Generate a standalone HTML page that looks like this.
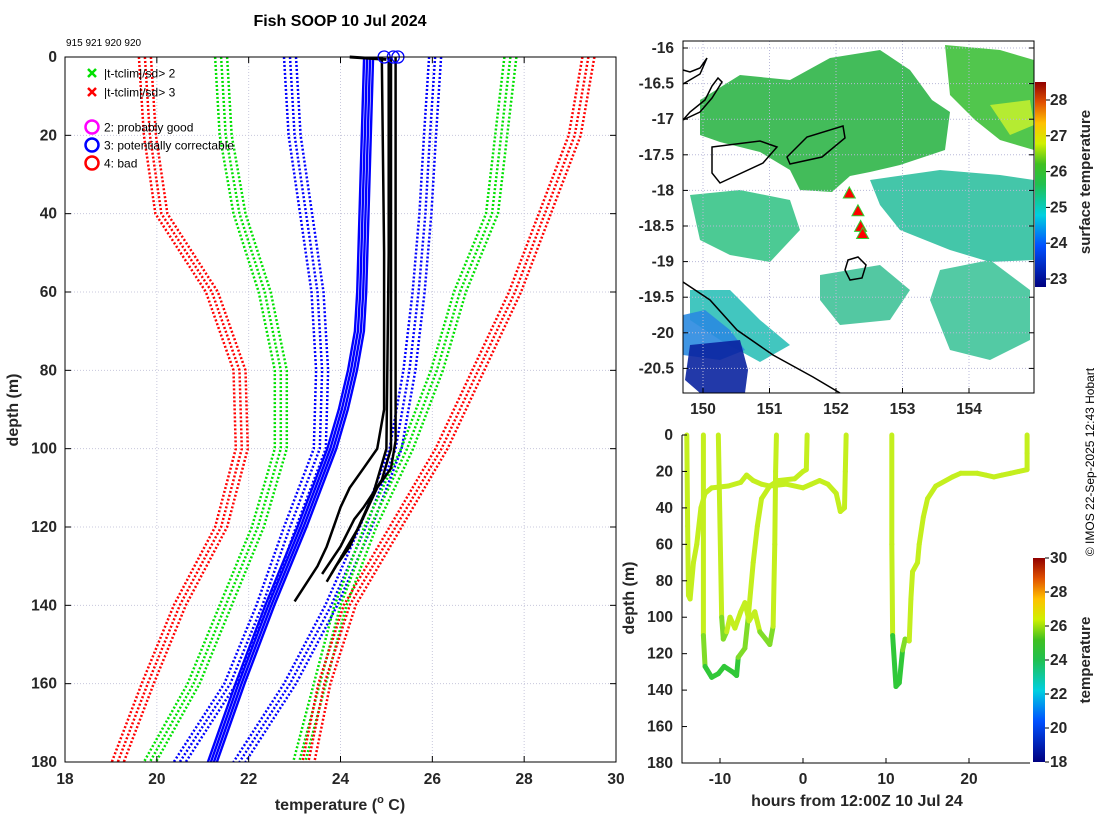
<!DOCTYPE html>
<html><head><meta charset="utf-8"><style>
html,body{margin:0;padding:0;background:#fff;}
svg{display:block;font-family:"Liberation Sans",sans-serif;}
.tk{font-size:15.5px;font-weight:bold;fill:#262626;}
</style></head><body>
<svg id="s" width="1100" height="820" viewBox="0 0 1100 820">
<defs>
<linearGradient id="cb1" x1="0" y1="1" x2="0" y2="0">
<stop offset="0" stop-color="#00007f"/><stop offset="0.2" stop-color="#0050ff"/><stop offset="0.35" stop-color="#00d0e0"/><stop offset="0.5" stop-color="#20c050"/><stop offset="0.6" stop-color="#40c020"/><stop offset="0.7" stop-color="#d0f000"/><stop offset="0.8" stop-color="#ffc000"/><stop offset="0.9" stop-color="#e05000"/><stop offset="1" stop-color="#900000"/>
</linearGradient>
</defs>
<text x="340" y="26" text-anchor="middle" font-size="16" font-weight="bold" fill="#000">Fish SOOP 10 Jul 2024</text>
<text x="66" y="46" font-size="10" fill="#000">915 921 920 920</text>
<g id="left"></g>
<g id="map"></g>
<g id="br"></g>
<text transform="translate(1094,462) rotate(-90)" text-anchor="middle" font-size="12" fill="#000">© IMOS 22-Sep-2025 12:43 Hobart</text>
</svg>
<script>
const NS="http://www.w3.org/2000/svg";
function mk(parent,tag,attrs,text){const e=document.createElementNS(NS,tag);for(const k in attrs)e.setAttribute(k,attrs[k]);if(text!==undefined)e.textContent=text;parent.appendChild(e);return e;}

// ---------- LEFT PANEL DATA ----------
const depthLevels=[0,20,40,60,80,100,120,140,160,180];
const climRedLeft=[19.74,19.85,20.1,21.2,21.8,21.85,21.4,20.5,19.8,19.15];
const climGreenLeft=[21.4,21.5,21.8,22.35,22.7,22.7,22.2,21.5,20.8,19.85];
const climBlueLeft=[22.9,23.0,23.25,23.5,23.6,23.55,22.9,22.3,21.6,20.5];
const climBlueRight=[26.06,25.95,25.85,25.7,25.5,25.2,24.55,23.8,22.9,21.8];
const climGreenRight=[27.7,27.5,27.3,26.6,26.1,25.45,24.65,24.0,23.55,23.1];
const climRedRight=[29.4,29.1,28.45,27.8,27.0,26.2,25.2,24.2,23.65,23.3];
const blueProfDepth=[0,20,40,60,70,80,90,100,120,140,160,180];
const blueProfTemp=[24.6,24.55,24.5,24.45,24.4,24.25,24.05,23.8,23.15,22.45,21.8,21.2];
const blackProfA_T=[24.9,24.95,24.95,24.8,24.5,24.2,24.0,23.7,23.5,23.0];
const blackProfA_D=[0,50,90,100,105,110,115,125,130,139];
const blackProfB_T=[25.1,25.1,25.1,24.9,24.5,24.3,24.0,23.6];
const blackProfB_D=[0,50,100,108,115,118,125,132];
const blackProfC_T=[25.2,25.2,25.2,25.1,24.8,24.4,24.0,23.8];
const blackProfC_D=[0,50,98,105,110,120,128,132];
const blackProfD_T=[25.05,25.05,25.0,24.7,24.2,23.9,23.7];
const blackProfD_D=[0,50,100,112,125,130,134];
const xTicksL=[18,20,22,24,26,28,30];
const yTicksL=[0,20,40,60,80,100,120,140,160,180];

const L={x0:65,x1:616,y0:57,y1:762,t0:18,t1:30,d0:0,d1:180};
const lx=t=>L.x0+(t-L.t0)/(L.t1-L.t0)*(L.x1-L.x0);
const ly=d=>L.y0+(d-L.d0)/(L.d1-L.d0)*(L.y1-L.y0);
const gL=document.getElementById('left');
xTicksL.forEach(t=>{const e=mk(gL,'line',{x1:lx(t),x2:lx(t),y1:L.y0,y2:L.y1,stroke:'#c8c8dc','stroke-dasharray':'1,2','stroke-width':1});

});
yTicksL.forEach(d=>{const e=mk(gL,'line',{x1:L.x0,x2:L.x1,y1:ly(d),y2:ly(d),stroke:'#c8c8dc','stroke-dasharray':'1,2','stroke-width':1});

});
function pathFrom(ts,ds,fx,fy,off){return ts.map((t,i)=>(i?'L':'M')+(fx(t)+(off||0)).toFixed(1)+','+fy(ds[i]).toFixed(1)).join(' ');}
const climSets=[[climRedLeft,'#ff0000','clim-red-left'],[climGreenLeft,'#00e000','clim-green-left'],[climBlueLeft,'#0000ff','clim-blue-left'],[climBlueRight,'#0000ff','clim-blue-right'],[climGreenRight,'#00e000','clim-green-right'],[climRedRight,'#ff0000','clim-red-right']];
climSets.forEach(([arr,col,nm])=>{[-6,0,6].forEach(o=>{const e=mk(gL,'path',{d:pathFrom(arr,depthLevels,lx,ly,o),fill:'none',stroke:col,'stroke-width':2.5,'stroke-dasharray':'2,2'});

});});
[-4,-1,2,5].forEach(o=>{const e=mk(gL,'path',{d:pathFrom(blueProfTemp,blueProfDepth,lx,ly,o),fill:'none',stroke:'#0000ff','stroke-width':2.4});

});
[[blackProfA_T,blackProfA_D],[blackProfB_T,blackProfB_D],[blackProfC_T,blackProfC_D],[blackProfD_T,blackProfD_D]].forEach(([ts,ds])=>{const e=mk(gL,'path',{d:pathFrom(ts,ds,lx,ly),fill:'none',stroke:'#000','stroke-width':2.5});

});
{const e=mk(gL,'path',{d:`M${lx(24.2)},${ly(0)} L${lx(25.0)},${ly(0.6)}`,stroke:'#000','stroke-width':3});

}
[24.95,25.15,25.25].forEach(t=>{const e=mk(gL,'circle',{cx:lx(t),cy:ly(0),r:6,fill:'none',stroke:'#0000ff','stroke-width':1.3});

});
mk(gL,'rect',{x:L.x0,y:L.y0,width:L.x1-L.x0,height:L.y1-L.y0,fill:'none',stroke:'#000','stroke-width':1});
xTicksL.forEach(t=>{mk(gL,'line',{x1:lx(t),x2:lx(t),y1:L.y1,y2:L.y1-6,stroke:'#000'});mk(gL,'line',{x1:lx(t),x2:lx(t),y1:L.y0,y2:L.y0+6,stroke:'#000'});
const e=mk(gL,'text',{x:lx(t),y:L.y1+22,'text-anchor':'middle',class:'tk'},String(t));

});
yTicksL.forEach(d=>{mk(gL,'line',{x1:L.x0,x2:L.x0+6,y1:ly(d),y2:ly(d),stroke:'#000'});mk(gL,'line',{x1:L.x1,x2:L.x1-6,y1:ly(d),y2:ly(d),stroke:'#000'});
const e=mk(gL,'text',{x:L.x0-8,y:ly(d)+5,'text-anchor':'end',class:'tk'},String(d));

});
{const e=mk(gL,'text',{x:340,y:810,'text-anchor':'middle','font-size':16,'font-weight':'bold',fill:'#262626'});e.innerHTML='temperature (<tspan font-size="11" dy="-7">o</tspan><tspan dy="7"> C)</tspan>';

}
{const e=mk(gL,'text',{transform:'translate(18,410) rotate(-90)','text-anchor':'middle','font-size':16,'font-weight':'bold',fill:'#262626'},'depth (m)');

}
const legItems=[['x','#00e000','|t-tclim|/sd> 2',73],['x','#ff0000','|t-tclim|/sd> 3',92],['o','#ff00ff','2: probably good',127],['o','#0000ff','3: potentially correctable',145],['o','#ff0000','4: bad',163]];
legItems.forEach(([m,c,txt,y])=>{const g=mk(gL,'g',{});


if(m==='x'){mk(g,'path',{d:`M88,${y-4}l8,8M96,${y-4}l-8,8`,stroke:c,'stroke-width':2.5});}
else{mk(g,'circle',{cx:92,cy:y,r:6.5,fill:'none',stroke:c,'stroke-width':2.5});}
mk(g,'text',{x:104,y:y+4.5,'font-size':12,fill:'#000'},txt);});

// ---------- MAP ----------
const mapLonTicks=[150,151,152,153,154];
const mapLatTicks=[-16,-16.5,-17,-17.5,-18,-18.5,-19,-19.5,-20,-20.5];
const dropLon=[152.2,152.33,152.37,152.4];
const dropLat=[-18.05,-18.3,-18.52,-18.62];
const sstTicks=[23,24,25,26,27,28];
const M={x0:683,x1:1034,y0:41,y1:393};
const mx=lon=>703+(lon-150)*66.5;
const my=lat=>48+(-16-lat)*71.2;
const gM=document.getElementById('map');
const blobs=[
['#2fb548','M700,100 L740,75 790,80 830,58 880,50 910,70 932,100 950,112 945,150 900,165 870,172 850,176 832,192 800,190 790,170 760,152 720,142 700,135 Z','sst-patch-green'],
['#3ec03a','M945,45 L1000,50 1034,60 1034,150 1000,140 975,120 950,95 Z','sst-patch-lightgreen'],
['#38c488','M690,195 L740,190 790,200 800,230 770,262 730,255 700,240 Z','sst-patch-teal'],
['#30c0a0','M870,180 L940,170 1000,175 1034,180 1034,260 990,262 950,250 900,230 880,205 Z','sst-patch-teal-east'],
['#40c298','M820,275 L880,265 910,290 890,320 840,325 820,300 Z','sst-patch-teal-south'],
['#2ec0b8','M690,290 L730,290 760,320 790,345 760,362 720,340 690,320 Z','sst-patch-cyan-sw'],
['#2a8ae0','M683,315 L705,310 730,330 745,350 720,360 683,355 Z','sst-patch-blue'],
['#0a23a0','M690,345 L740,340 748,370 745,393 700,393 685,380 Z','sst-patch-darkblue'],
['#40c49a','M940,270 L990,260 1030,290 1030,340 990,360 950,350 930,300 Z','sst-patch-teal-se'],
['#c0ee30','M990,105 L1030,100 1034,125 1010,135 Z','sst-patch-yellowgreen']];
blobs.forEach(([c,d,nm])=>{const e=mk(gM,'path',{d:d,fill:c,opacity:0.9});

});
mapLonTicks.forEach(l=>{mk(gM,'line',{x1:mx(l),x2:mx(l),y1:M.y0,y2:M.y1,stroke:'#b8b8d8','stroke-dasharray':'1,2'});});
mapLatTicks.forEach(l=>{mk(gM,'line',{x1:M.x0,x2:M.x1,y1:my(l),y2:my(l),stroke:'#b8b8d8','stroke-dasharray':'1,2'});});
const coasts=['M683,282 L710,300 737,330 773,355 813,377 840,393','M712,147 L760,141 777,147 763,163 720,183 712,173 Z','M787,157 L807,137 843,126 845,138 822,157 790,164 Z','M848,260 L858,257 866,265 862,278 850,280 845,270 Z','M683,120 L700,112 712,98 722,82 718,78 712,86 705,100 690,112 Z','M683,84 L700,74 707,58 700,68 690,72 683,70'];
coasts.forEach(d=>{const e=mk(gM,'path',{d:d,fill:'none',stroke:'#000','stroke-width':1.5});

});
dropLon.forEach((lo,i)=>{const x=mx(lo),y=my(dropLat[i]);const e=mk(gM,'path',{d:`M${x},${y-7} L${x+6},${y+4} L${x-6},${y+4} Z`,fill:'#ff0000',stroke:'#30d030','stroke-width':1});

});
mk(gM,'rect',{x:M.x0,y:M.y0,width:M.x1-M.x0,height:M.y1-M.y0,fill:'none',stroke:'#000'});
mapLonTicks.forEach(l=>{mk(gM,'line',{x1:mx(l),x2:mx(l),y1:M.y1,y2:M.y1-5,stroke:'#000'});
const e=mk(gM,'text',{x:mx(l),y:M.y1+21,'text-anchor':'middle',class:'tk'},String(l));

});
mapLatTicks.forEach(l=>{mk(gM,'line',{x1:M.x0,x2:M.x0+5,y1:my(l),y2:my(l),stroke:'#000'});mk(gM,'line',{x1:M.x1,x2:M.x1-5,y1:my(l),y2:my(l),stroke:'#000'});
const e=mk(gM,'text',{x:M.x0-9,y:my(l)+5,'text-anchor':'end',class:'tk'},String(l));

});
const cby=v=>279-(v-23)*35.8;
{const e=mk(gM,'rect',{x:1035,y:82,width:11,height:205,fill:'url(#cb1)'});

}
sstTicks.forEach(v=>{mk(gM,'line',{x1:1046,x2:1050,y1:cby(v),y2:cby(v),stroke:'#000'});
const e=mk(gM,'text',{x:1050,y:cby(v)+5,class:'tk'},String(v));

});
{const e=mk(gM,'text',{transform:'translate(1090,182) rotate(-90)','text-anchor':'middle','font-size':15,'font-weight':'bold',fill:'#262626'},'surface temperature');

}

// ---------- BOTTOM RIGHT ----------
const hrTicks=[-10,0,10,20];
const depTicks=[0,20,40,60,80,100,120,140,160,180];
const tempTicks=[18,20,22,24,26,28,30];
const traceA_h=[-14,-13.9,-13.8,-13.6,-13.2,-12.8,-12.3,-11.8,-11,-9,-7.5,-6.8,-6,-5,-4,-2,0,1,2,3,4,4.5,5,5.1,5.2];
const traceA_d=[0,50,88,90,70,60,40,32,29,28,26,22,25,27,28,27,29,27,25,27,32,42,40,20,0];
const traceB_h=[-12,-12,-11.8,-11,-10.2,-9.5,-8.5,-8,-7.8,-7,-6.6,-6,-5.5,-5,-4,-3,-1,0,0.4,0.5];
const traceB_d=[0,110,127,133,131,127,130,132,122,117,100,70,50,35,28,25,24,20,19,0];
const traceC_h=[-10.2,-10,-9.8,-9.6,-9.2,-8.8,-8.2,-7.5,-7,-6.5,-5.8,-5.2,-4.5,-4,-3.6,-3.4,-3.3,-3.2];
const traceC_d=[0,50,100,112,108,100,106,97,92,102,97,108,112,115,105,60,20,0];
const traceD_h=[10.7,10.7,10.8,11.2,11.6,12,12.3,12.8,13,13.2,13.8,14,14.5,15,16,18,19,21,22,23,24,25,26,27,27,27];
const traceD_d=[0,60,110,138,136,118,112,113,90,75,70,60,45,35,28,23,21,21,22,23,22,21,20,19,10,0];
const B={x0:682,x1:1030,y0:435,y1:763};
const bx=h=>803+h*8.3;
const by=d=>B.y0+d/180*(B.y1-B.y0);
const gB=document.getElementById('br');
function segCol(d){return d>122?'#30c838':d>105?'#80dc28':'#c4ef1e';}
[[traceA_h,traceA_d],[traceB_h,traceB_d],[traceC_h,traceC_d],[traceD_h,traceD_d]].forEach(([hs,ds])=>{const g=mk(gB,'g',{});


for(let i=1;i<hs.length;i++){mk(g,'line',{x1:bx(hs[i-1]),y1:by(ds[i-1]),x2:bx(hs[i]),y2:by(ds[i]),stroke:segCol((ds[i]+ds[i-1])/2),'stroke-width':5,'stroke-linecap':'round'});}});
mk(gB,'path',{d:`M${B.x0},${B.y0} V${B.y1} H${B.x1}`,fill:'none',stroke:'#000'});
hrTicks.forEach(h=>{mk(gB,'line',{x1:bx(h),x2:bx(h),y1:B.y1,y2:B.y1-5,stroke:'#000'});
const e=mk(gB,'text',{x:bx(h),y:B.y1+21,'text-anchor':'middle',class:'tk'},String(h));

});
depTicks.forEach(d=>{mk(gB,'line',{x1:B.x0,x2:B.x0+5,y1:by(d),y2:by(d),stroke:'#000'});
const e=mk(gB,'text',{x:B.x0-9,y:by(d)+5,'text-anchor':'end',class:'tk'},String(d));

});
{const e=mk(gB,'text',{x:857,y:806,'text-anchor':'middle','font-size':16,'font-weight':'bold',fill:'#262626'},'hours from 12:00Z 10 Jul 24');

}
{const e=mk(gB,'text',{transform:'translate(634,598) rotate(-90)','text-anchor':'middle','font-size':16,'font-weight':'bold',fill:'#262626'},'depth (m)');

}
const cb2y=v=>762-(v-18)*17;
{const e=mk(gB,'rect',{x:1033,y:558,width:12,height:204,fill:'url(#cb1)'});

}
tempTicks.forEach(v=>{mk(gB,'line',{x1:1045,x2:1049,y1:cb2y(v),y2:cb2y(v),stroke:'#000'});
const e=mk(gB,'text',{x:1050,y:cb2y(v)+5,class:'tk'},String(v));

});
{const e=mk(gB,'text',{transform:'translate(1090,660) rotate(-90)','text-anchor':'middle','font-size':15,'font-weight':'bold',fill:'#262626'},'temperature');

}
</script>
</body></html>
